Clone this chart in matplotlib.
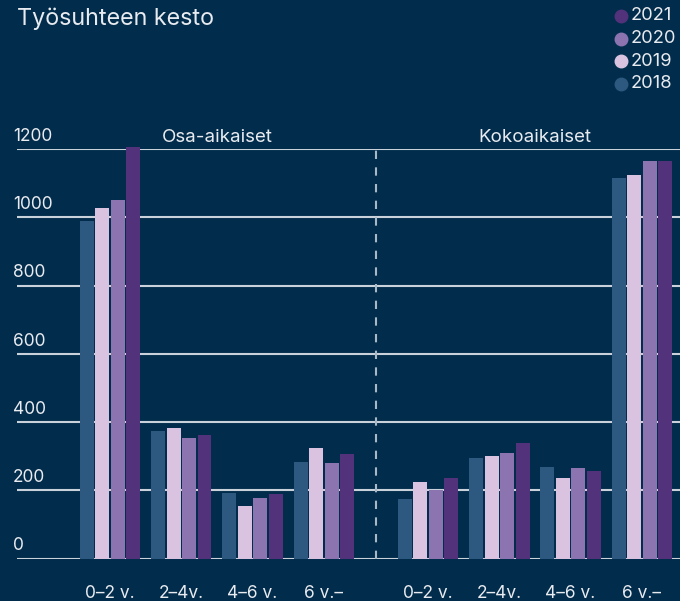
import numpy as np
import matplotlib
matplotlib.use("Agg")
import matplotlib.pyplot as plt
from matplotlib import transforms
from matplotlib.lines import Line2D

plt.rcParams['font.family'] = ['Inter', 'DejaVu Sans']

### DATA ------------------------
years = ['2018', '2019', '2020', '2021']
categories = ['0–2 v.', '2–4v.', '4–6 v.', '6 v.–']
sections = ['Osa-aikaiset', 'Kokoaikaiset']
# Osa-aikaiset, one list per year
osa_2018 = [989, 374, 192, 283]
osa_2019 = [1027, 383, 154, 324]
osa_2020 = [1050, 353, 177, 280]
osa_2021 = [1205, 362, 189, 306]
# Kokoaikaiset, one list per year
koko_2018 = [175, 295, 269, 1114]
koko_2019 = [225, 301, 236, 1123]
koko_2020 = [202, 310, 266, 1164]
koko_2021 = [236, 339, 257, 1164]
yticks = [0, 200, 400, 600, 800, 1000, 1200]

### STYLE ------------------------
bg = '#022c4b'
colors = ['#2d587f', '#d9c3e0', '#8b74b0', '#52337b']
grid_col = '#c9d1da'
text_col = '#e8ebf0'

fig = plt.figure(figsize=(6.8, 6.01), dpi=100, facecolor=bg)
ax = fig.add_axes([17 / 680, 42.3 / 601, 663 / 680, 409.7 / 601])
ax.set_facecolor(bg)
for s in ax.spines.values():
    s.set_visible(False)
ax.set_xticks([])
ax.set_yticks([])

gap = 1.46
osa_x = np.arange(4)
koko_x = np.arange(4) + 3 + gap
step = 0.217
width = 0.196
offsets = (np.arange(4) - 1.5) * step

osa_vals = [osa_2018, osa_2019, osa_2020, osa_2021]
koko_vals = [koko_2018, koko_2019, koko_2020, koko_2021]
for i in range(4):
    ax.bar(osa_x + offsets[i], osa_vals[i], width, color=colors[i], zorder=3, clip_on=False)
    ax.bar(koko_x + offsets[i], koko_vals[i], width, color=colors[i], zorder=3, clip_on=False)

ax.set_xlim(-1.304, 7.994)
ax.set_ylim(0, 1200)

# gridlines + y labels
ylab_tr = transforms.offset_copy(
    transforms.blended_transform_factory(fig.transFigure, ax.transData),
    fig=fig, y=6, units='points')
for v in yticks:
    ax.axhline(v, color=grid_col, lw=1.5, zorder=1)
    ax.text(13 / 680, v, str(v), transform=ylab_tr, ha='left', va='baseline',
            fontsize=12.5, color=text_col)

# divider
ax.axvline(3.73, color='#a9b8c6', lw=1.5, ls=(0, (4, 4)), zorder=2)

# section labels
sec_tr = transforms.blended_transform_factory(ax.transData, fig.transFigure)
ax.text(osa_x.mean(), 1 - 137 / 601, sections[0], transform=sec_tr, ha='center',
        va='center', fontsize=13.5, color=text_col)
ax.text(koko_x.mean(), 1 - 137 / 601, sections[1], transform=sec_tr, ha='center',
        va='center', fontsize=13.5, color=text_col)

# category labels
for xs in (osa_x, koko_x):
    for x, lab in zip(xs, categories):
        ax.text(x, 1 - 598 / 601, lab, transform=sec_tr, ha='center', va='baseline',
                fontsize=12.5, color=text_col, clip_on=False)

# title
fig.text(17 / 680, 1 - 19 / 601, 'Työsuhteen kesto', ha='left', va='center',
         fontsize=16.8, color=text_col)

# legend
leg_y = [16, 38.5, 61, 84]
for yr, col, y in zip(years[::-1], colors[::-1], leg_y):
    fig.add_artist(Line2D([621 / 680], [1 - y / 601], transform=fig.transFigure,
                          marker='o', markersize=9, color=col, lw=0))
    fig.text(631 / 680, 1 - y / 601, yr, ha='left', va='center', fontsize=13.2,
             color=text_col)

fig.savefig('out.png', dpi=100, facecolor=bg)
